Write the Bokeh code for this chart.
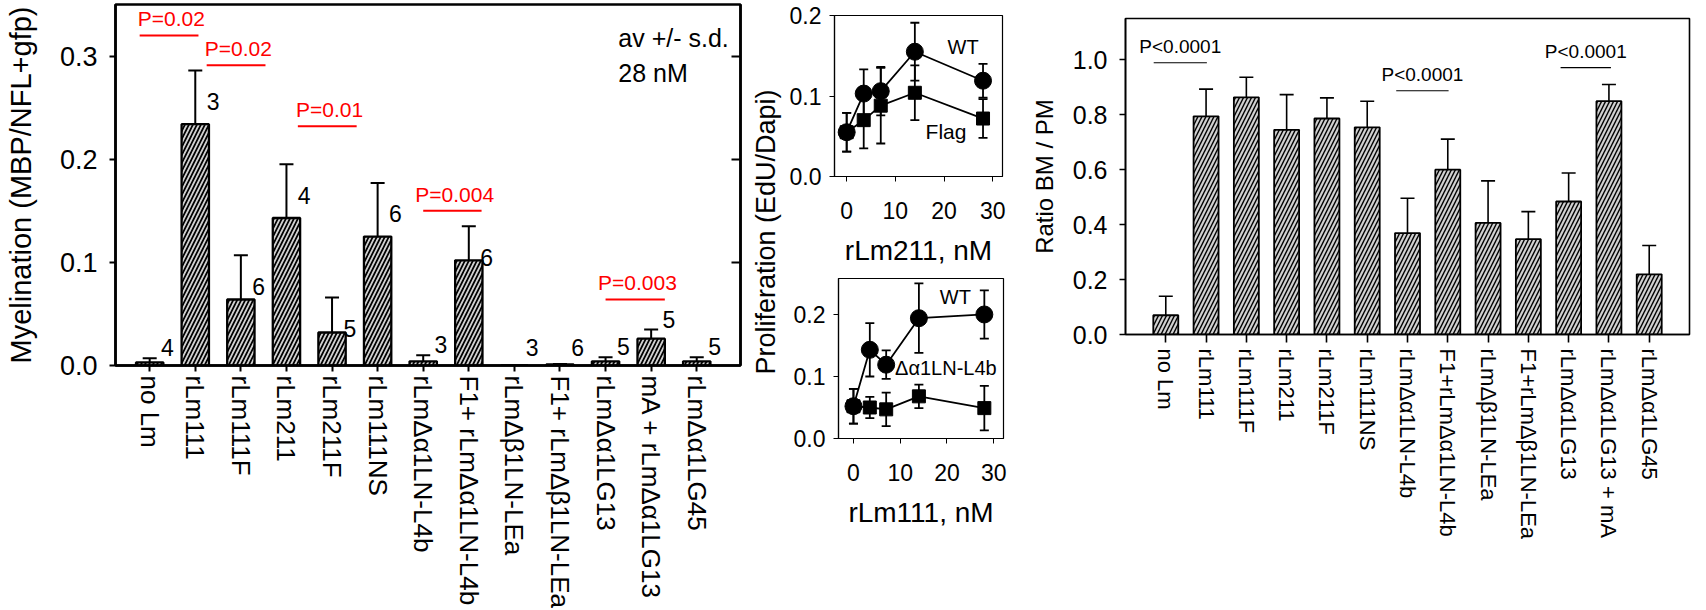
from math import pi
from bokeh.plotting import figure
from bokeh.models import (ColumnDataSource, Whisker, TeeHead, FixedTicker,
                          PrintfTickFormatter, Range1d, Label, LinearAxis)
from bokeh.core.properties import value
from bokeh.embed import file_html
from bokeh.resources import INLINE

FONT = "Liberation Sans"

# ---------------- Panel A: myelination ----------------
myel_labels = ["no Lm", "rLm111", "rLm111F", "rLm211", "rLm211F", "rLm111NS",
               "rLmΔα1LN-L4b", "F1+ rLmΔα1LN-L4b", "rLmΔβ1LN-LEa",
               "F1+ rLmΔβ1LN-LEa", "rLmΔα1LG13", "mA + rLmΔα1LG13", "rLmΔα1LG45"]
myel_mean = [0.003, 0.234, 0.064, 0.143, 0.032, 0.125, 0.004, 0.102, 0.0,
             0.001, 0.004, 0.026, 0.004]
myel_sd = [0.004, 0.052, 0.043, 0.052, 0.034, 0.052, 0.006, 0.033, float("nan"),
           0.0005, 0.004, 0.009, 0.004]
myel_n = ["4", "3", "6", "4", "5", "6", "3", "6", "3", "6", "5", "5", "5"]

# significance annotations (label, line start, line end, line height)
myel_p_text = ["P=0.02", "P=0.02", "P=0.01", "P=0.004", "P=0.003"]
myel_p_x0 = [-0.22, 1.25, 3.25, 6.0, 10.0]
myel_p_x1 = [1.07, 2.54, 4.54, 7.28, 11.3]
myel_p_y = [0.320, 0.291, 0.232, 0.150, 0.064]

# ---------------- Panel B: proliferation insets ----------------
conc = [0, 3.5, 7, 14, 28]
lm211_wt = [0.055, 0.103, 0.106, 0.155, 0.119]
lm211_wt_sd = [0.024, 0.030, 0.030, 0.036, 0.021]
lm211_flag = [0.055, 0.070, 0.088, 0.104, 0.072]
lm211_flag_sd = [0.024, 0.035, 0.047, 0.034, 0.024]
lm111_wt = [0.052, 0.143, 0.119, 0.194, 0.200]
lm111_wt_sd = [0.028, 0.043, 0.023, 0.056, 0.039]
lm111_del = [0.052, 0.050, 0.047, 0.068, 0.049]
lm111_del_sd = [0.028, 0.017, 0.027, 0.019, 0.036]

# ---------------- Panel C: ratio BM / PM ----------------
ratio_labels = ["no Lm", "rLm111", "rLm111F", "rLm211", "rLm211F", "rLm111NS",
                "rLmΔα1LN-L4b", "F1+rLmΔα1LN-L4b", "rLmΔβ1LN-LEa",
                "F1+rLmΔβ1LN-LEa", "rLmΔα1LG13", "rLmΔα1LG13 + mA", "rLmΔα1LG45"]
ratio_mean = [0.070, 0.794, 0.863, 0.745, 0.786, 0.754, 0.369, 0.600, 0.406,
              0.347, 0.484, 0.849, 0.219]
ratio_sd = [0.069, 0.099, 0.073, 0.128, 0.075, 0.095, 0.127, 0.111, 0.153,
            0.100, 0.104, 0.061, 0.105]
ratio_p_text = ["P<0.0001", "P<0.0001", "P<0.0001"]
ratio_p_x0 = [-0.3, 5.72, 9.8]
ratio_p_x1 = [1.02, 7.02, 11.05]
ratio_p_y = [0.989, 0.887, 0.971]

BAR_FILL = "#d0d0d0"


def base_fig(w, h, xr, yr, mb, left, top, **kw):
    p = figure(width=w, height=h, x_range=Range1d(*xr), y_range=Range1d(*yr),
               output_backend="svg", toolbar_location=None,
               min_border_left=mb[0], min_border_right=mb[1],
               min_border_top=mb[2], min_border_bottom=mb[3],
               styles={"position": "absolute", "left": f"{left}px", "top": f"{top}px"},
               **kw)
    p.xgrid.visible = False
    p.ygrid.visible = False
    p.background_fill_color = "white"
    p.border_fill_color = None
    p.outline_line_color = "black"
    for ax in list(p.xaxis) + list(p.yaxis):
        ax.minor_tick_line_color = None
        ax.major_tick_in = 0
        ax.major_tick_out = 6
        ax.axis_line_color = "black"
        ax.major_tick_line_color = "black"
        ax.major_label_text_color = "black"
        ax.axis_label_text_color = "black"
        ax.axis_label_text_font_style = "normal"
        ax.major_label_text_font = FONT
        ax.axis_label_text_font = FONT
    return p


# ======== Panel A ========
pA = base_fig(785, 610, (-0.75, 12.96), (0, 0.35), (115, 45, 4, 245), 0, 0)
pA.outline_line_width = 2.5
idx = list(range(len(myel_labels)))
upA = [m + s for m, s in zip(myel_mean, myel_sd)]
srcA = ColumnDataSource(dict(x=idx, top=myel_mean, up=upA))
pA.add_layout(Whisker(source=srcA, base="x", upper="up", lower="top",
                      line_width=2, line_color="black",
                      upper_head=TeeHead(size=14, line_width=2, line_color="black"),
                      lower_head=None))
pA.vbar(x="x", top="top", width=0.6, source=srcA, fill_color=BAR_FILL,
        line_color="black", line_width=2.3, hatch_pattern="/", hatch_color="black",
        hatch_scale=8, hatch_weight=1.7)

lab_y = []
for m, s in zip(myel_mean, myel_sd):
    t = m if s != s else m + s
    lab_y.append(t - 0.03 if t > 0.05 else max(t + 0.01, 0.0175))
pA.text(x=[i + 0.25 for i in idx], y=lab_y, text=myel_n,
        text_font=value(FONT), text_font_size="23px", text_color="black",
        text_align="left", text_baseline="middle")

pA.segment(x0=myel_p_x0, x1=myel_p_x1, y0=myel_p_y, y1=myel_p_y,
           line_color="red", line_width=2)
pA.text(x=[(a + b) / 2 + 0.05 for a, b in zip(myel_p_x0, myel_p_x1)],
        y=[y + 0.016 for y in myel_p_y], text=myel_p_text,
        text_font=value(FONT), text_font_size="21px", text_color="red",
        text_align="center", text_baseline="middle")

pA.add_layout(Label(x=10.28, y=0.318, text="av +/- s.d.", text_font=FONT,
                    text_font_size="25px", text_color="black", text_baseline="middle"))
pA.add_layout(Label(x=10.28, y=0.284, text="28 nM", text_font=FONT,
                    text_font_size="25px", text_color="black", text_baseline="middle"))

ya = pA.yaxis[0]
ya.ticker = FixedTicker(ticks=[0, 0.1, 0.2, 0.3])
ya.formatter = PrintfTickFormatter(format="%.1f")
ya.major_label_text_font_size = "27px"
ya.major_label_standoff = 12
ya.axis_line_width = 2.5
ya.major_tick_line_width = 2
ya.axis_label = "Myelination (MBP/NFL+gfp)"
ya.axis_label_text_font_size = "29px"
ya.axis_label_standoff = 20

xa = pA.xaxis[0]
xa.ticker = FixedTicker(ticks=idx)
xa.major_label_overrides = {i: lab for i, lab in zip(idx, myel_labels)}
xa.major_label_orientation = "vertical"
xa.major_label_text_font_size = "26px"
xa.major_label_standoff = 4
xa.axis_line_width = 2.5
xa.major_tick_line_width = 2

# mirrored inward ticks on the right edge of panel A (no labels)
ra = LinearAxis(ticker=FixedTicker(ticks=[0.1, 0.2, 0.3]), major_tick_in=9,
                major_tick_out=0, minor_tick_line_color=None,
                major_tick_line_width=2, axis_line_width=2.5,
                major_label_text_color=None)
pA.add_layout(ra, "right")

# ======== shared title of the two insets ========
pT = base_fig(50, 610, (0, 1), (0, 1), (0, 0, 85, 232), 740, 0,
              x_axis_location=None, y_axis_location=None)
pT.outline_line_color = None
pT.background_fill_color = None
pT.add_layout(Label(x=0.5, y=0.5, text="Proliferation (EdU/Dapi)",
                    angle=pi / 2, text_align="center", text_baseline="middle",
                    text_font=FONT, text_font_size="27px", text_color="black"))


# ======== Panel B insets ========
def inset(w, h, xr, yr, mb, left, top, xlabel, s1, s1sd, s2, s2sd):
    p = base_fig(w, h, xr, yr, mb, left, top)
    p.outline_line_width = 1.2
    for ys, sd, marker, sz in ((s2, s2sd, "square", 13), (s1, s1sd, "circle", 17)):
        lo = [a - b for a, b in zip(ys, sd)]
        hi = [a + b for a, b in zip(ys, sd)]
        src = ColumnDataSource(dict(x=conc, y=ys, lo=lo, hi=hi))
        p.line("x", "y", source=src, line_color="black", line_width=1.8)
        p.add_layout(Whisker(source=src, base="x", upper="hi", lower="lo",
                             line_width=1.8, line_color="black",
                             upper_head=TeeHead(size=9, line_width=1.8),
                             lower_head=TeeHead(size=9, line_width=1.8)))
        p.scatter("x", "y", source=src, marker=marker, size=sz,
                  fill_color="black", line_color="black")
    yax = p.yaxis[0]
    yax.ticker = FixedTicker(ticks=[0, 0.1, 0.2])
    yax.formatter = PrintfTickFormatter(format="%.1f")
    yax.major_label_text_font_size = "23px"
    yax.major_label_standoff = 8
    yax.major_tick_out = 5
    yax.axis_line_width = 1.2
    xax = p.xaxis[0]
    xax.ticker = FixedTicker(ticks=[0, 10, 20, 30])
    xax.major_label_text_font_size = "23px"
    xax.major_label_standoff = 20
    xax.major_tick_out = 5
    xax.axis_line_width = 1.2
    xax.axis_label = xlabel
    xax.axis_label_text_font_size = "28px"
    xax.axis_label_standoff = 13
    return p


pB1 = inset(240, 268, (-2.5, 32.0), (0, 0.2), (49, 23, 15, 89), 785, 0, "rLm211, nM",
            lm211_wt, lm211_wt_sd, lm211_flag, lm211_flag_sd)
pB1.add_layout(Label(x=23.9, y=0.161, text="WT", text_align="center",
                     text_baseline="middle", text_font=FONT,
                     text_font_size="20px", text_color="black"))
pB1.add_layout(Label(x=20.4, y=0.056, text="Flag", text_align="center",
                     text_baseline="middle", text_font=FONT,
                     text_font_size="21px", text_color="black"))

pB2 = inset(240, 342, (-3.2, 32.1), (0, 0.258), (53, 22, 10, 172), 785, 268, "rLm111, nM",
            lm111_wt, lm111_wt_sd, lm111_del, lm111_del_sd)
pB2.add_layout(Label(x=21.8, y=0.228, text="WT", text_align="center",
                     text_baseline="middle", text_font=FONT,
                     text_font_size="20px", text_color="black"))
pB2.add_layout(Label(x=8.9, y=0.114, text="Δα1LN-L4b", text_align="left",
                     text_baseline="middle", text_font=FONT,
                     text_font_size="20px", text_color="black"))

# ======== Panel C ========
pC = base_fig(681, 610, (-1.0, 13.0), (0, 1.15), (100, 17, 18, 276), 1025, 0)
pC.outline_line_width = 1.6
idxC = list(range(len(ratio_labels)))
upC = [m + s for m, s in zip(ratio_mean, ratio_sd)]
srcC = ColumnDataSource(dict(x=idxC, top=ratio_mean, up=upC))
pC.add_layout(Whisker(source=srcC, base="x", upper="up", lower="top",
                      line_width=1.6, line_color="black",
                      upper_head=TeeHead(size=14, line_width=1.6, line_color="black"),
                      lower_head=None))
pC.vbar(x="x", top="top", width=0.62, source=srcC, fill_color=BAR_FILL,
        line_color="black", line_width=1.8, hatch_pattern="/", hatch_color="black",
        hatch_scale=8, hatch_weight=1.4)
pC.segment(x0=ratio_p_x0, x1=ratio_p_x1, y0=ratio_p_y, y1=ratio_p_y,
           line_color="black", line_width=1.2)
pC.text(x=[(a + b) / 2 for a, b in zip(ratio_p_x0, ratio_p_x1)],
        y=[y + 0.058 for y in ratio_p_y], text=ratio_p_text,
        text_font=value(FONT), text_font_size="19px", text_color="black",
        text_align="center", text_baseline="middle")

yc = pC.yaxis[0]
yc.ticker = FixedTicker(ticks=[0, 0.2, 0.4, 0.6, 0.8, 1.0])
yc.formatter = PrintfTickFormatter(format="%.1f")
yc.major_label_text_font_size = "25px"
yc.major_label_standoff = 12
yc.axis_line_width = 1.6
yc.major_tick_line_width = 1.6
yc.axis_label = "Ratio BM / PM"
yc.axis_label_text_font_size = "24px"
yc.axis_label_standoff = 12

xc = pC.xaxis[0]
xc.ticker = FixedTicker(ticks=idxC)
xc.major_label_overrides = {i: lab for i, lab in zip(idxC, ratio_labels)}
xc.major_label_orientation = "vertical"
xc.major_label_text_font_size = "22px"
xc.major_label_standoff = 6
xc.major_tick_out = 8
xc.axis_line_width = 1.6
xc.major_tick_line_width = 1.6

open("out.html", "w").write(file_html([pA, pT, pB1, pB2, pC], INLINE))
